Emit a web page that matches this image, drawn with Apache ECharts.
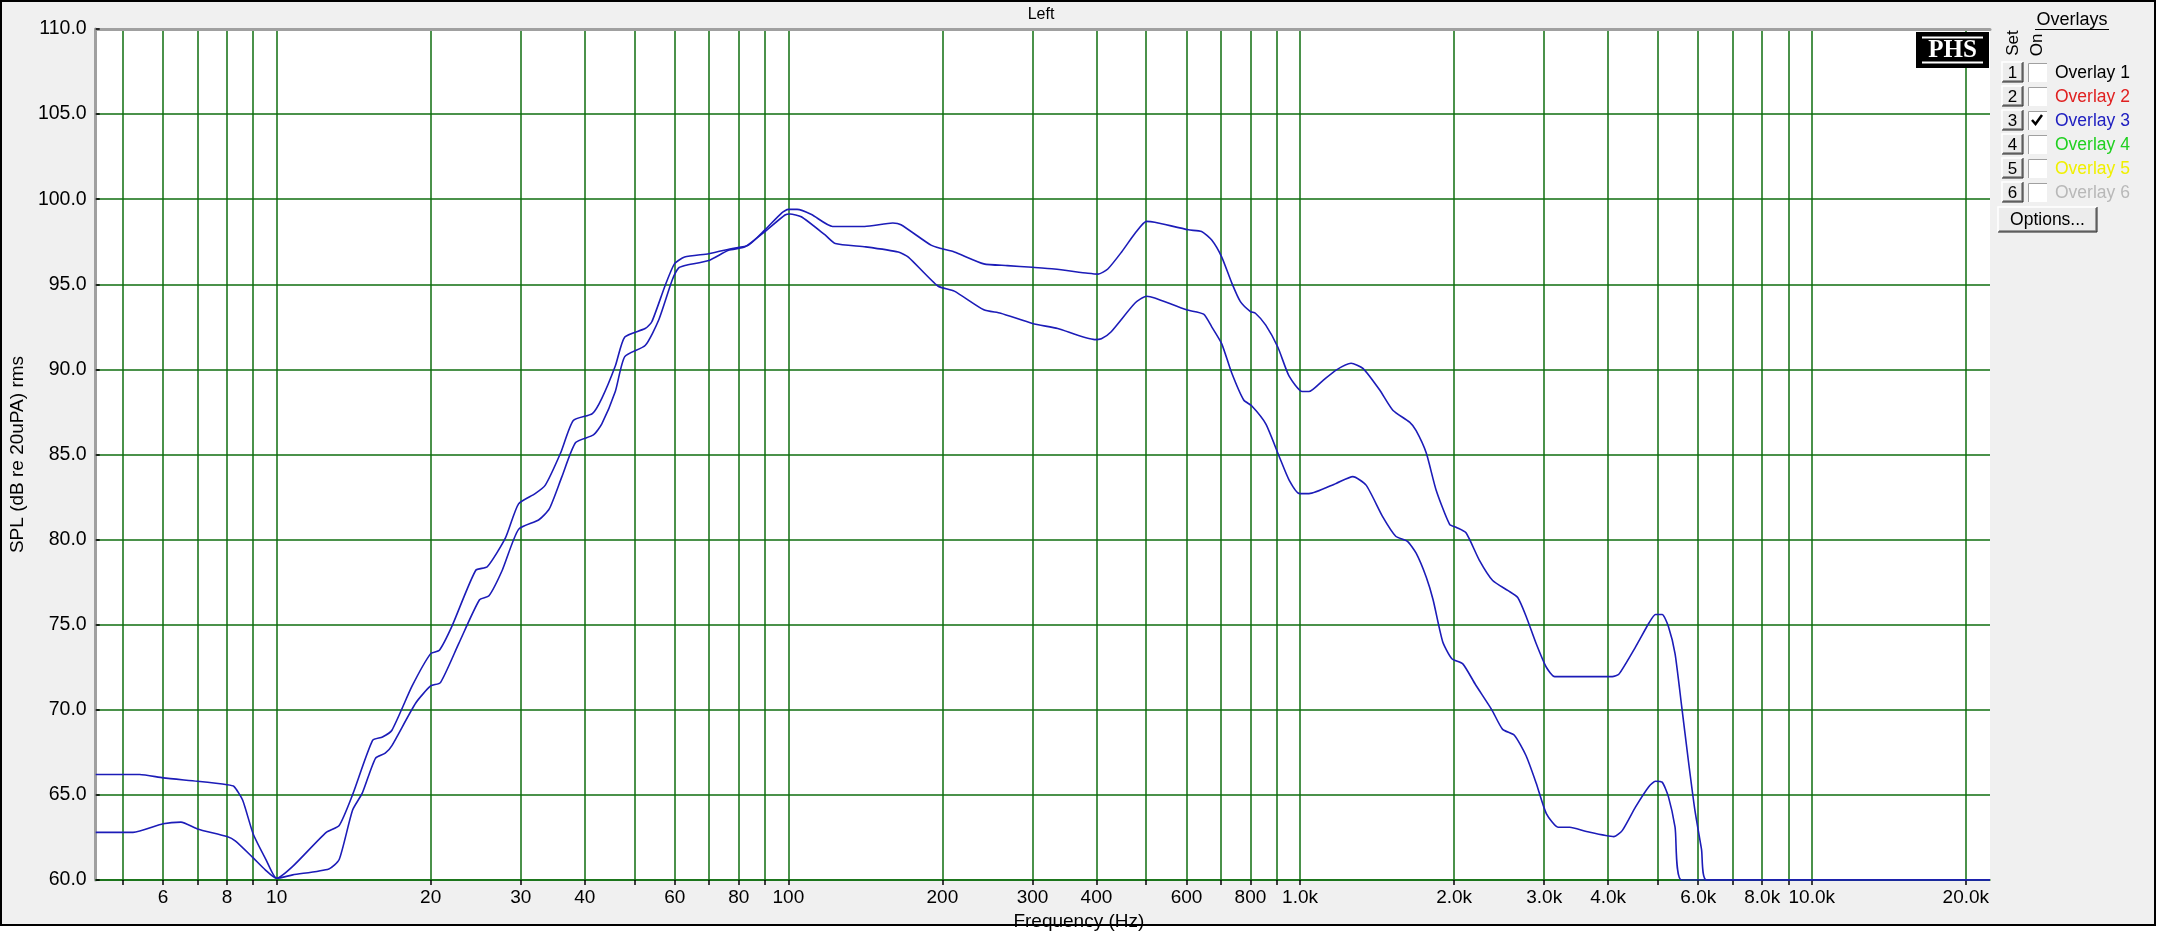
<!DOCTYPE html>
<html>
<head>
<meta charset="utf-8">
<script src="https://cdn.jsdelivr.net/npm/echarts@6/dist/echarts.min.js"></script>
<style>
html,body{margin:0;padding:0;background:#fff;}
#chart{width:2176px;height:951px;}
</style>
</head>
<body>
<div id="chart"></div>
<script>
// ---- Data ----
const freqA = [4.43, 5.4, 6.0, 7.0, 8.0, 8.25, 8.58, 9.0, 9.53, 10.0,
  10.75, 12.5, 13.25, 14.07, 15.4, 16.1, 16.8, 18.4, 20.0, 20.8, 22.0, 24.5, 25.8, 28.0, 29.7,
  32.0, 33.5, 35.9, 38.0, 41.4, 43.2, 45.9, 47.9, 52.5, 54.1, 57.4, 59.9, 62.7, 69.9, 77.7,
  83.6, 90.0, 97.1, 100, 104, 111, 122, 141, 160, 166, 190, 199, 211, 241, 268, 300, 331,
  385, 403, 421, 448, 476, 501, 520, 605, 642, 672, 703, 735, 764, 800, 818, 857, 905, 952,
  1010, 1041, 1104, 1176, 1258, 1327, 1430, 1518, 1637, 1686, 1764, 1845, 1960, 2025, 2110,
  2240, 2379, 2550, 2663, 2765, 2893, 3029, 3145, 4075, 4200, 4526, 4807, 4950, 5100, 5246,
  5405, 5569, 5737, 5910, 6089, 6226, 22300];
const splA = [66.2, 66.2, 66.0, 65.8, 65.6, 65.5, 64.7, 62.7, 61.2, 60.1,
  60.8, 62.8, 63.2, 65.0, 68.2, 68.4, 68.8, 71.4, 73.3, 73.5, 74.9, 78.2, 78.4, 80.1, 82.1,
  82.7, 83.2, 85.1, 87.0, 87.4, 88.3, 90.2, 91.9, 92.4, 92.8, 94.9, 96.2, 96.6, 96.8, 97.1,
  97.3, 98.2, 99.2, 99.4, 99.4, 99.1, 98.4, 98.4, 98.6, 98.5, 97.3, 97.1, 96.9, 96.2, 96.1, 96.0, 95.9,
  95.65, 95.6, 95.9, 96.9, 98.0, 98.7, 98.65, 98.2, 98.1, 97.6, 96.6, 95.1, 94.0, 93.4, 93.3, 92.6, 91.3, 89.6,
  88.7, 88.7, 89.3, 89.96, 90.36, 90.06, 88.8, 87.6, 86.9, 86.4, 85.1, 82.9, 80.9, 80.7, 80.4,
  78.8, 77.6, 77.0, 76.6, 75.5, 73.9, 72.5, 71.95, 71.95, 72.1, 73.7, 75.1, 75.6, 75.6, 74.9,
  73.3, 70.2, 67.05, 64.1, 61.8, 60.0, 60.0];

const freqB = [4.43, 5.24, 6.0, 6.5, 7.0, 8.0, 8.3, 9.0, 9.5, 10.0,
  10.75, 12.65, 13.25, 14.07, 14.7, 15.6, 16.3, 16.8, 18.7, 20.0, 20.9, 22.7, 24.9, 26.0, 27.6, 29.7,
  32.5, 34.1, 36.1, 38.4, 41.6, 43.2, 45.9, 47.9, 52.5, 55.8, 59.3, 61.0, 62.8, 69.9, 76.4,
  82.3, 90, 98.5, 100.7, 106, 118, 123.5, 141.6, 164, 171.6, 196, 211, 241, 260, 300, 336,
  397, 409, 427, 476, 501, 520, 600, 648, 672, 703, 735, 776, 805, 857, 910, 952, 998,
  1041, 1176, 1268, 1346, 1450, 1538, 1621, 1686, 1764, 1820, 1900, 1980, 2080, 2200, 2370,
  2488, 2623, 2765, 2893, 3029, 3193, 3366, 3627, 4106, 4261, 4526, 4807, 4950, 5100, 5246,
  5405, 5569, 22300];
const splB = [62.8, 62.8, 63.3, 63.4, 63.0, 62.55, 62.3, 61.3, 60.6, 60.1,
  60.3, 60.65, 61.2, 64.1, 65.1, 67.15, 67.45, 67.9, 70.4, 71.4, 71.6, 73.9, 76.45, 76.7, 78.2, 80.6,
  81.15, 81.8, 83.7, 85.7, 86.15, 86.8, 88.7, 90.75, 91.4, 92.9, 95.25, 95.95, 96.1, 96.4, 97.0,
  97.2, 98.1, 99.07, 99.13, 98.97, 97.9, 97.4, 97.2, 96.9, 96.6, 94.9, 94.6, 93.5, 93.3, 92.7, 92.4,
  91.75, 91.8, 92.2, 93.9, 94.3, 94.2, 93.5, 93.25, 92.5, 91.5, 89.8, 88.2, 87.85, 86.8, 84.9, 83.5, 82.7,
  82.7, 83.3, 83.7, 83.2, 81.35, 80.2, 79.9, 79.2, 77.8, 76.45, 74.0, 73.0, 72.7, 71.5, 70.0,
  68.85, 68.5, 67.3, 65.7, 63.9, 63.1, 63.1, 62.85, 62.55, 62.9, 64.3, 65.5, 65.8, 65.75, 64.9,
  63.1, 60.0, 60.0];

// tick positions (grid lines) and labelled ticks on the frequency axis
const xTickValues = [5, 6, 7, 8, 9, 10, 20, 30, 40, 50, 60, 70, 80, 90, 100, 200, 300, 400, 500,
  600, 700, 800, 900, 1000, 2000, 3000, 4000, 5000, 6000, 7000, 8000, 9000, 10000, 20000];
const xLabelValues = [6, 8, 10, 20, 30, 40, 60, 80, 100, 200, 300, 400, 600, 800, 1000, 2000,
  3000, 4000, 6000, 8000, 10000, 20000];
const overlayNames = ['Overlay 1', 'Overlay 2', 'Overlay 3', 'Overlay 4', 'Overlay 5', 'Overlay 6'];
const overlayColors = ['#000000', '#e02020', '#2020c0', '#20d020', '#f0f000', '#b8b8b8'];
const overlayChecked = [false, false, true, false, false, false];

// ---- Chart ----
const FONT = 'Liberation Sans';
const GRID = '#0f6e0f';
const LINE = '#1c1cb8';
const chart = echarts.init(document.getElementById('chart'), null, {renderer: 'canvas'});

function freqLabel(v) {
  if (v >= 1000) return (v / 1000).toFixed(1) + 'k';
  return String(Math.round(v));
}

function button(x, y, w, h, label, fs) {
  return {
    type: 'group', z: 50, children: [
      {type: 'rect', shape: {x: x, y: y, width: w, height: h}, style: {fill: '#ececec', stroke: null}},
      {type: 'polyline', shape: {points: [[x, y + h], [x, y], [x + w, y]]}, style: {stroke: '#ffffff', lineWidth: 1.5, fill: null}},
      {type: 'polyline', shape: {points: [[x + 1, y + h - 1], [x + w - 1, y + h - 1], [x + w - 1, y + 1]]}, style: {stroke: '#808080', lineWidth: 1.5, fill: null}},
      {type: 'polyline', shape: {points: [[x, y + h], [x + w, y + h], [x + w, y]]}, style: {stroke: '#202020', lineWidth: 1, fill: null}},
      {type: 'text', style: {x: x + w / 2, y: y + h / 2 + 1, text: label, fill: '#000', font: fs + 'px ' + FONT, textAlign: 'center', textVerticalAlign: 'middle'}}
    ]
  };
}

const graphics = [
  // window background & frame
  {type: 'rect', z: -100, shape: {x: 1, y: 1, width: 2154, height: 924}, style: {fill: '#f0f0f0', stroke: '#000', lineWidth: 2}},
  // title
  {type: 'text', z: 50, style: {x: 1041, y: 15, text: 'Left', fill: '#000', font: '16px ' + FONT, textAlign: 'center', textVerticalAlign: 'middle'}},
  // PHS logo
  {type: 'rect', z: 60, shape: {x: 1916, y: 32, width: 73, height: 36}, style: {fill: '#000'}},
  {type: 'line', z: 61, shape: {x1: 1922, y1: 37.5, x2: 1983, y2: 37.5}, style: {stroke: '#fff', lineWidth: 2}},
  {type: 'line', z: 61, shape: {x1: 1922, y1: 62.5, x2: 1983, y2: 62.5}, style: {stroke: '#fff', lineWidth: 2}},
  {type: 'text', z: 61, style: {x: 1952.5, y: 51, text: 'PHS', fill: '#fff', font: 'bold 25px "Liberation Serif"', textAlign: 'center', textVerticalAlign: 'middle'}},
  // Overlays panel header
  {type: 'text', z: 50, style: {x: 2072, y: 20, text: 'Overlays', fill: '#000', font: '18px ' + FONT, textAlign: 'center', textVerticalAlign: 'middle'}},
  {type: 'line', z: 50, shape: {x1: 2035, y1: 29.5, x2: 2109, y2: 29.5}, style: {stroke: '#000', lineWidth: 1.2}},
  {type: 'text', z: 50, x: 2013, y: 43, rotation: Math.PI / 2, style: {x: 0, y: 0, text: 'Set', fill: '#000', font: '17px ' + FONT, textAlign: 'center', textVerticalAlign: 'middle'}},
  {type: 'text', z: 50, x: 2037, y: 45, rotation: Math.PI / 2, style: {x: 0, y: 0, text: 'On', fill: '#000', font: '17px ' + FONT, textAlign: 'center', textVerticalAlign: 'middle'}}
];
overlayNames.forEach(function (name, i) {
  const cy = 72 + i * 24;
  graphics.push(button(2002, cy - 10, 21, 20, String(i + 1), 17));
  graphics.push({type: 'rect', z: 50, shape: {x: 2028, y: cy - 9, width: 19, height: 19}, style: {fill: '#fff', stroke: null}});
  graphics.push({type: 'polyline', z: 51, shape: {points: [[2028.5, cy + 10], [2028.5, cy - 8.5], [2047, cy - 8.5]]}, style: {stroke: '#a0a0a0', lineWidth: 1, fill: null}});
  if (overlayChecked[i]) {
    graphics.push({type: 'polyline', z: 52, shape: {points: [[2032, cy], [2035.5, cy + 4], [2042, cy - 5]]}, style: {stroke: '#000', lineWidth: 2.5, fill: null}});
  }
  graphics.push({type: 'text', z: 50, style: {x: 2055, y: cy + 1, text: name, fill: overlayColors[i], font: '17.5px ' + FONT, textAlign: 'left', textVerticalAlign: 'middle'}});
});
graphics.push(button(1998, 207, 99, 25, 'Options...', 17.5));

const option = {
  animation: false,
  backgroundColor: '#ffffff',
  graphic: graphics,
  grid: {left: 93, top: 29, width: 1897, height: 851, show: true, backgroundColor: '#ffffff', borderWidth: 0},
  xAxis: [{
    type: 'log', logBase: 10, min: 4.43, max: 22300, position: 'bottom',
    name: 'Frequency (Hz)', nameLocation: 'middle', nameGap: 21,
    nameTextStyle: {fontFamily: FONT, fontSize: 19, color: '#000', padding: [0, 0, 0, 72]},
    axisLine: {show: true, lineStyle: {color: GRID, width: 1.5}},
    axisTick: {show: true, inside: false, length: 5, customValues: xTickValues, lineStyle: {color: '#000', width: 1.5}},
    axisLabel: {show: true, customValues: xLabelValues, formatter: freqLabel, margin: 8,
      fontFamily: FONT, fontSize: 19, color: '#000', hideOverlap: false},
    splitLine: {show: true, lineStyle: {color: GRID, width: 1.5}},
    minorTick: {show: false}, minorSplitLine: {show: false}
  }, {
    type: 'log', logBase: 10, min: 4.43, max: 22300, position: 'top',
    axisLine: {show: true, lineStyle: {color: '#a0a0a0', width: 3}},
    axisTick: {show: false}, axisLabel: {show: false}, splitLine: {show: false}
  }],
  yAxis: {
    type: 'value', min: 60, max: 110, interval: 5,
    name: 'SPL (dB re 20uPA) rms', nameLocation: 'middle', nameGap: 60, nameRotate: 90,
    nameTextStyle: {fontFamily: FONT, fontSize: 19, color: '#000'},
    axisLine: {show: true, lineStyle: {color: '#a0a0a0', width: 3}},
    axisTick: {show: true, inside: true, length: 4, lineStyle: {color: '#000', width: 1.5}},
    axisLabel: {formatter: function (v) { return v.toFixed(1); }, margin: 9,
      fontFamily: FONT, fontSize: 19.5, color: '#000'},
    splitLine: {show: true, lineStyle: {color: GRID, width: 1.5}}
  },
  series: [{
    name: 'Curve A', type: 'line', xAxisIndex: 0, showSymbol: false, smooth: 0.2,
    lineStyle: {color: LINE, width: 1.6}, z: 5,
    data: freqA.map(function (f, i) { return [f, splA[i]]; })
  }, {
    name: 'Curve B', type: 'line', xAxisIndex: 0, showSymbol: false, smooth: 0.2,
    lineStyle: {color: LINE, width: 1.6}, z: 5,
    data: freqB.map(function (f, i) { return [f, splB[i]]; })
  }]
};
chart.setOption(option);
</script>
</body>
</html>
